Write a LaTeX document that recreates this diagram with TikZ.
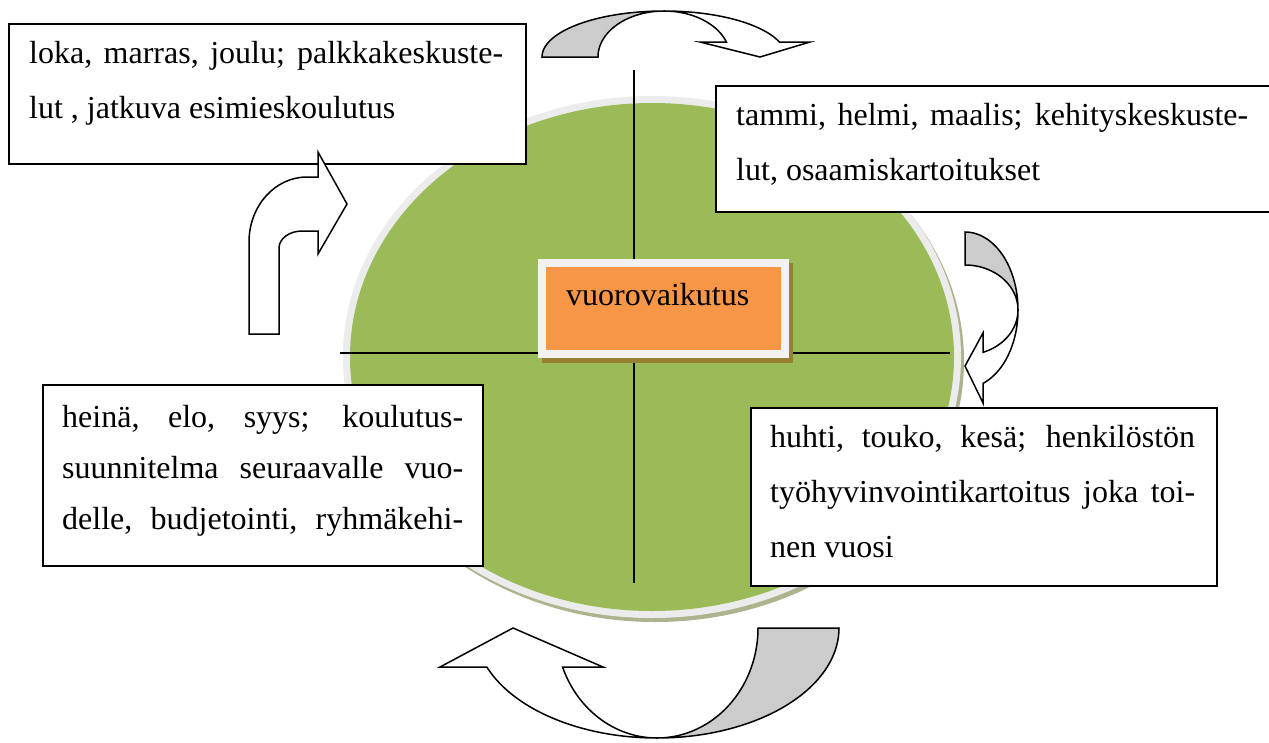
\documentclass[tikz,border=0pt]{standalone}
\usepackage{fontspec}
\setmainfont{Liberation Serif}
\definecolor{grn}{RGB}{155,187,89}
\definecolor{orng}{RGB}{247,150,70}
\definecolor{ringgray}{RGB}{236,236,236}
\definecolor{ellshadow}{RGB}{172,180,142}
\definecolor{boxgray}{RGB}{242,242,242}
\definecolor{bshadow}{RGB}{152,128,50}
\definecolor{arrgray}{RGB}{204,204,204}
\begin{document}
\begin{tikzpicture}[x=1pt,y=-1pt,
  box/.style={draw=black, line width=1.6pt, fill=white, inner sep=0pt, anchor=north west},
  txt/.style={inner sep=0pt, anchor=base west, font=\fontsize{32}{55}\selectfont},
  arr/.style={draw=black, line width=1.5pt, fill=white, line join=miter},
  arrg/.style={arr, fill=arrgray},
  cross/.style={draw=black, line width=1.5pt}]
\fill[white] (0,0) rectangle (1269,742);
\useasboundingbox (0,0) rectangle (1269,742);

% ellipse with ring and shadow
\fill[ellshadow] (655,361) ellipse [x radius=309pt, y radius=261pt];
\fill[ringgray] (652,357) ellipse [x radius=309pt, y radius=261pt];
\fill[grn] (652,357) ellipse [x radius=302pt, y radius=254pt];

% cross
\draw[cross] (634,70) -- (634,583);
\draw[cross] (340,353) -- (950,353);

% centre box
\fill[bshadow] (542,263) rectangle (793,363);
\node[fill=boxgray, inner sep=0pt, anchor=north west, minimum width=251, minimum height=99] (cframe) at (538,259) {};
\node[fill=orng, inner sep=0pt, anchor=north west, minimum width=235, minimum height=83] (cbox) at (546,267) {};
\node[txt] (ctext) at (566,305) {vuorovaikutus};

% text boxes
\node[box, minimum width=517, minimum height=140] (b1) at (8,23) {};
\node[box, minimum width=562, minimum height=126] (b2) at (715,85) {};
\node[box, minimum width=440, minimum height=181] (b3) at (42,384) {};
\node[box, minimum width=466, minimum height=178] (b4) at (750,407) {};

\node[txt] (t1) at (29,63) {\vtop{\baselineskip=55pt
  \hbox to 474pt{loka, marras, joulu; palkkakeskuste-}
  \hbox{lut , jatkuva esimieskoulutus}}};
\node[txt] (t2) at (736,125) {\vtop{\baselineskip=55pt
  \hbox to 512pt{tammi, helmi, maalis; kehityskeskuste-}
  \hbox{lut, osaamiskartoitukset}}};
\node[txt] (t3) at (62,427) {\vtop{\baselineskip=51pt
  \hbox to 401pt{heinä, elo, syys; koulutus-}
  \hbox to 401pt{suunnitelma seuraavalle vuo-}
  \hbox to 401pt{delle, budjetointi, ryhmäkehi-}}};
\node[txt] (t4) at (770,447) {\vtop{\baselineskip=55pt
  \hbox to 425pt{huhti, touko, kesä; henkilöstön}
  \hbox to 425pt{työhyvinvointikartoitus joka toi-}
  \hbox{nen vuosi}}};

% top curved arrow
\draw[arrg] plot[domain=180:270, samples=40] ({664+122*cos(\x)},{57+46*sin(\x)})
  -- plot[domain=270:180, samples=40] ({664+66*cos(\x)},{57+46*sin(\x)}) -- cycle;
\draw[arr] plot[domain=270:341, samples=40] ({664+122*cos(\x)},{57+46*sin(\x)})
  -- (810,42) -- (760,57) -- (700,42)
  -- plot[domain=341:270, samples=40] ({664+66*cos(\x)},{57+46*sin(\x)}) -- cycle;

% right curved arrow
\draw[arrg] plot[domain=-90:0, samples=40] ({965+53*cos(\x)},{310+78*sin(\x)})
  -- plot[domain=0:-90, samples=40] ({965+53*cos(\x)},{310+45*sin(\x)}) -- cycle;
\draw[arr] plot[domain=0:70.15, samples=40] ({965+53*cos(\x)},{310+78*sin(\x)})
  -- (983,403) -- (965,366) -- (983,333)
  -- plot[domain=70.15:0, samples=40] ({965+53*cos(\x)},{310+45*sin(\x)}) -- cycle;

% bottom curved arrow
\draw[arrg] plot[domain=0:90, samples=40] ({657+182*cos(\x)},{628+110*sin(\x)})
  -- plot[domain=90:0, samples=40] ({657+101*cos(\x)},{628+110*sin(\x)}) -- cycle;
\draw[arr] plot[domain=90:159.2, samples=40] ({657+182*cos(\x)},{628+110*sin(\x)})
  -- (440,667) -- (513,628) -- (603,667)
  -- plot[domain=159.2:90, samples=40] ({657+101*cos(\x)},{628+110*sin(\x)}) -- cycle;

% left bent arrow
\draw[arr] (249,334) -- (249,242) .. controls (249,206) and (275,177) .. (307,177)
  -- (318,177) -- (318,152) -- (347,204) -- (318,254) -- (318,231) -- (302,231)
  .. controls (289,231) and (279,239) .. (279,248) -- (279,334) -- cycle;
\end{tikzpicture}
\end{document}
